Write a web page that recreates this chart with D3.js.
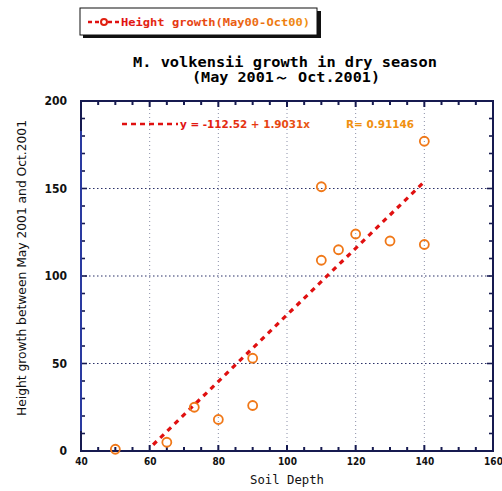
<!DOCTYPE html>
<html>
<head>
<meta charset="utf-8">
<script src="https://cdn.jsdelivr.net/npm/d3@7"></script>
<style>
  html, body { margin: 0; padding: 0; background: #ffffff; }
  svg { display: block; }
</style>
</head>
<body>
<script>
// Soil depth (cm) against height growth of M. volkensii, May–Oct 2001
const soilDepth    = [50, 65, 73, 80, 90, 90, 110, 110, 115, 120, 130, 140, 140];
const heightGrowth = [1, 5, 25, 18, 26, 53, 109, 151, 115, 124, 120, 118, 177];

// Linear fit shown on the chart
const fitIntercept = -112.52;
const fitSlope = 1.9031;
const fitR = 0.91146;
const fitRange = [61, 140];

const xTicks = [40, 60, 80, 100, 120, 140, 160];
const yTicks = [0, 50, 100, 150, 200];

const W = 502, H = 491;
const M = { left: 81, right: 493, top: 101, bottom: 451 };

const svg = d3.select("body").append("svg").attr("width", W).attr("height", H);

const x = d3.scaleLinear().domain([40, 160]).range([M.left, M.right]);
const y = d3.scaleLinear().domain([0, 200]).range([M.bottom, M.top]);

const narrow = "'Liberation Sans Narrow', 'Arial Narrow', 'DejaVu Sans Condensed', sans-serif";
const mono = "'DejaVu Sans Mono', 'Liberation Mono', monospace";

// red-to-orange text fill
const defs = svg.append("defs");
const grad = defs.append("linearGradient").attr("id", "redOrange")
  .attr("x1", "0%").attr("x2", "100%").attr("y1", "0%").attr("y2", "0%");
grad.append("stop").attr("offset", "0%").attr("stop-color", "#e01010");
grad.append("stop").attr("offset", "100%").attr("stop-color", "#f09010");

// ---- legend box with drop shadow ----
const lg = svg.append("g");
lg.append("rect").attr("x", 83).attr("y", 11).attr("width", 238).attr("height", 27).attr("fill", "#111");
lg.append("rect").attr("x", 80).attr("y", 8).attr("width", 237).attr("height", 27)
  .attr("fill", "#fff").attr("stroke", "#111").attr("stroke-width", 1);
lg.append("line").attr("x1", 88).attr("x2", 100).attr("y1", 22).attr("y2", 22)
  .attr("stroke", "#e01010").attr("stroke-width", 2.5).attr("stroke-dasharray", "4,3");
lg.append("line").attr("x1", 108).attr("x2", 119).attr("y1", 22).attr("y2", 22)
  .attr("stroke", "#e01010").attr("stroke-width", 2.5).attr("stroke-dasharray", "4,3");
lg.append("circle").attr("cx", 104).attr("cy", 22).attr("r", 3)
  .attr("fill", "none").attr("stroke", "#e02010").attr("stroke-width", 2);
lg.append("text").attr("x", 121).attr("y", 26)
  .attr("font-family", mono).attr("font-weight", "bold").attr("font-size", 11)
  .attr("textLength", 189).attr("lengthAdjust", "spacingAndGlyphs")
  .attr("fill", "url(#redOrange)")
  .text("Height growth(May00-Oct00)");

// ---- title ----
svg.append("text").attr("x", 285).attr("y", 67).attr("text-anchor", "middle")
  .attr("font-family", mono).attr("font-weight", "bold").attr("font-size", 14)
  .attr("textLength", 304).attr("lengthAdjust", "spacingAndGlyphs")
  .text("M. volkensii growth in dry season");
svg.append("text").attr("x", 286).attr("y", 82).attr("text-anchor", "middle")
  .attr("font-family", mono).attr("font-weight", "bold").attr("font-size", 14)
  .attr("textLength", 188).attr("lengthAdjust", "spacingAndGlyphs")
  .text("(May 2001～ Oct.2001)");

// ---- grid ----
const grid = svg.append("g");
grid.selectAll("line.vx").data(xTicks.filter(d => d > 40 && d < 160)).join("line")
  .attr("x1", d => x(d)).attr("x2", d => x(d)).attr("y1", M.top).attr("y2", M.bottom)
  .attr("stroke", "#8a8fa8").attr("stroke-width", 1).attr("stroke-dasharray", "1,3");
grid.selectAll("line.hy").data(yTicks.filter(d => d > 0 && d < 200)).join("line")
  .attr("x1", M.left).attr("x2", M.right).attr("y1", d => y(d)).attr("y2", d => y(d))
  .attr("stroke", "#2a3068").attr("stroke-width", 1.2).attr("stroke-dasharray", "1.5,2.5");

// ---- frame with inward ticks on all four sides ----
const axisColor = "#161a50";
const ax = svg.append("g");
const tickLen = (v, major) => (v % major === 0 ? 6 : 4);

ax.selectAll("line.bt").data(d3.range(45, 160, 5)).join("line")
  .attr("x1", d => x(d)).attr("x2", d => x(d))
  .attr("y1", M.bottom).attr("y2", d => M.bottom - tickLen(d, 20))
  .attr("stroke", axisColor).attr("stroke-width", 2);
ax.selectAll("line.tt").data(d3.range(45, 160, 5)).join("line")
  .attr("x1", d => x(d)).attr("x2", d => x(d))
  .attr("y1", M.top).attr("y2", d => M.top + tickLen(d, 20))
  .attr("stroke", axisColor).attr("stroke-width", 2);
ax.selectAll("line.lt").data(d3.range(10, 200, 10)).join("line")
  .attr("x1", M.left).attr("x2", d => M.left + tickLen(d, 50))
  .attr("y1", d => y(d)).attr("y2", d => y(d))
  .attr("stroke", axisColor).attr("stroke-width", 1.6);
ax.selectAll("line.rt").data(d3.range(10, 200, 10)).join("line")
  .attr("x1", M.right).attr("x2", d => M.right - tickLen(d, 50))
  .attr("y1", d => y(d)).attr("y2", d => y(d))
  .attr("stroke", axisColor).attr("stroke-width", 1.6);

ax.append("rect").attr("x", M.left).attr("y", M.top)
  .attr("width", M.right - M.left).attr("height", M.bottom - M.top)
  .attr("fill", "none").attr("stroke", axisColor).attr("stroke-width", 2);
ax.append("line").attr("x1", M.left).attr("x2", M.left).attr("y1", M.top + 30).attr("y2", M.bottom - 20)
  .attr("stroke", "#2a3aa0").attr("stroke-width", 2);

// tick labels from the axis generators
const gx = svg.append("g").attr("transform", `translate(0,${M.bottom})`)
  .call(d3.axisBottom(x).tickValues(xTicks).tickSize(0).tickPadding(7).tickFormat(d3.format("d")));
gx.select(".domain").remove();
gx.selectAll("text").attr("font-family", narrow).attr("font-weight", "bold")
  .attr("font-size", 10).attr("fill", "#111");

const gy = svg.append("g").attr("transform", `translate(${M.left},0)`)
  .call(d3.axisLeft(y).tickValues(yTicks).tickSize(0).tickPadding(14).tickFormat(d3.format("d")));
gy.select(".domain").remove();
gy.selectAll("text").attr("font-family", narrow).attr("font-weight", "bold")
  .attr("font-size", 12).attr("fill", "#111");

// axis titles
svg.append("text").attr("x", x(100)).attr("y", 484).attr("text-anchor", "middle")
  .attr("font-family", mono).attr("font-size", 12).attr("fill", "#111")
  .attr("textLength", 74).attr("lengthAdjust", "spacingAndGlyphs")
  .text("Soil Depth");
svg.append("text")
  .attr("transform", `translate(26,268) rotate(-90)`)
  .attr("text-anchor", "middle")
  .attr("font-family", narrow).attr("font-size", 12).attr("fill", "#111")
  .attr("textLength", 296).attr("lengthAdjust", "spacingAndGlyphs")
  .text("Height growth between May 2001 and Oct.2001");

// ---- regression line ----
svg.append("line")
  .attr("x1", x(fitRange[0])).attr("y1", y(fitIntercept + fitSlope * fitRange[0]))
  .attr("x2", x(fitRange[1])).attr("y2", y(fitIntercept + fitSlope * fitRange[1]))
  .attr("stroke", "#e01010").attr("stroke-width", 3.2).attr("stroke-dasharray", "5,5");

// equation label
svg.append("line").attr("x1", 122).attr("x2", 178).attr("y1", 124).attr("y2", 124)
  .attr("stroke", "#e01010").attr("stroke-width", 2.5).attr("stroke-dasharray", "5,4");
const eq = svg.append("text").attr("x", 180).attr("y", 128)
  .attr("font-family", narrow).attr("font-weight", "bold").attr("font-size", 11)
  .attr("fill", "url(#redOrange)");
eq.append("tspan").text(`y = ${fitIntercept} + ${fitSlope}x`)
  .attr("textLength", 130).attr("lengthAdjust", "spacingAndGlyphs");
eq.append("tspan").attr("x", 346).text(`R= ${fitR}`).attr("fill", "#f09010")
  .attr("textLength", 68).attr("lengthAdjust", "spacingAndGlyphs");

// ---- data points ----
svg.append("g").selectAll("circle")
  .data(soilDepth.map((d, i) => [d, heightGrowth[i]]))
  .join("circle")
  .attr("cx", d => x(d[0])).attr("cy", d => y(d[1])).attr("r", 4.5)
  .attr("fill", "none").attr("stroke", "#f07818").attr("stroke-width", 1.8);
</script>
</body>
</html>
